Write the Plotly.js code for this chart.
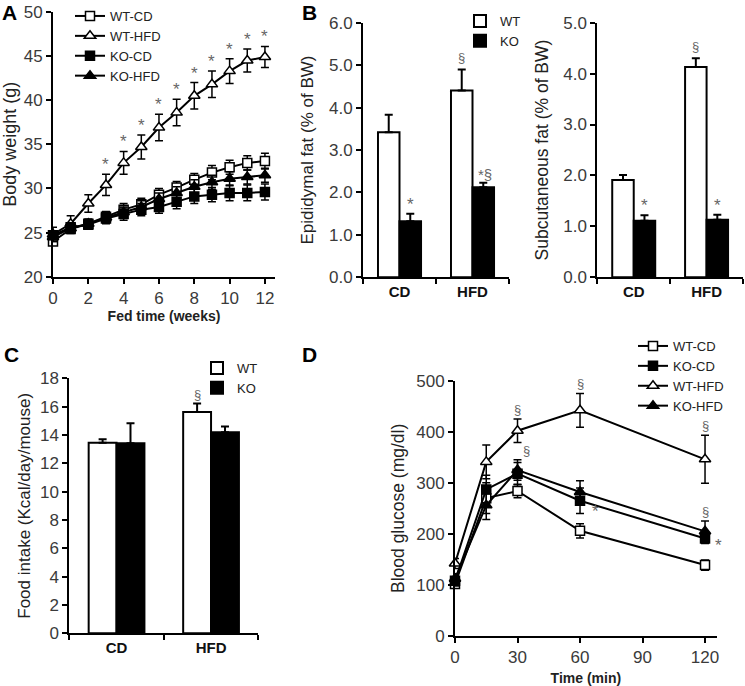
<!DOCTYPE html>
<html>
<head>
<meta charset="utf-8">
<script src="https://cdn.plot.ly/plotly-3.0.1.min.js"></script>
<style>html,body{margin:0;padding:0;background:#fff;}#chart{width:745px;height:686px;}</style>
</head>
<body>
<div id="chart"></div>
<script>
// ---------- DATA ----------
// Panel A: body weight (g) over fed time (weeks)
const weeks = [0,1,2,3,4,5,6,7,8,9,10,11,12];
const wtCdBW   = [24.0,25.4,26.0,26.8,27.6,28.2,29.3,30.1,31.0,31.8,32.4,32.9,33.1];
const wtCdBWe  = [0.4,0.5,0.5,0.6,0.7,0.7,0.7,0.7,0.7,0.8,0.8,0.8,0.9];
const wtHfdBW  = [24.8,26.0,28.3,30.4,32.9,34.7,36.9,38.6,40.5,41.8,43.3,44.5,44.9];
const wtHfdBWe = [0.8,0.9,1.0,1.2,1.3,1.35,1.5,1.5,1.5,1.5,1.4,1.3,1.2];
const koCdBW   = [24.7,25.6,25.9,26.6,27.1,27.6,27.9,28.5,29.1,29.3,29.5,29.5,29.6];
const koCdBWe  = [0.5,0.5,0.5,0.6,0.7,0.7,0.7,0.8,0.8,0.8,0.9,0.9,0.9];
const koHfdBW  = [24.5,25.5,26.0,26.7,27.3,27.9,28.8,29.5,30.2,30.7,31.1,31.3,31.5];
const koHfdBWe = [0.5,0.5,0.5,0.6,0.6,0.7,0.7,0.7,0.8,0.8,0.8,0.8,0.8];
const starWeeks = [3,4,5,6,7,8,9,10,11,12];

// Panels B, C: bar categories
const diets = ['CD','HFD'];
const epiWT = [3.42, 4.40], epiWTe = [0.41, 0.50];
const epiKO = [1.32, 2.12], epiKOe = [0.18, 0.11];
const subWT = [1.91, 4.13], subWTe = [0.10, 0.17];
const subKO = [1.11, 1.13], subKOe = [0.11, 0.10];
const foodWT = [13.45, 15.62], foodWTe = [0.25, 0.60];
const foodKO = [13.42, 14.20], foodKOe = [1.40, 0.40];

// Panel D: blood glucose (mg/dl) over time (min)
const minutes = [0,15,30,60,120];
const wtCdG   = [102,270,284,206,139], wtCdGe  = [8,30,13,14,10];
const koCdG   = [108,287,318,265,191], koCdGe  = [10,28,22,25,10];
const wtHfdG  = [142,341,402,442,346], wtHfdGe = [10,33,23,33,47];
const koHfdG  = [112,256,325,282,205], koHfdGe = [10,28,20,22,20];

// ---------- STYLE ----------
const W = 745, H = 686;
const FONT = 'Liberation Sans, Arial, sans-serif';
const TICKC = '#3a3a3a';
const MARKC = '#666';
function xd(a,b){return [a/W, b/W];}
function yd(top,bot){return [1-bot/H, 1-top/H];}
function zeros(a){return a.map(function(){return 0;});}

function lineTrace(name, x, y, e, sym, fill, xa, ya, lg){
  return {type:'scatter', mode:'lines+markers', name:name, x:x, y:y,
    xaxis:xa, yaxis:ya, legend:lg, cliponaxis:false,
    line:{color:'black', width:2},
    marker:{symbol:sym, size:(sym.indexOf('triangle')===0?10:9), color:fill, line:{color:'black', width:1.5}},
    error_y:{type:'data', array:e, visible:true, color:'black', thickness:1.5, width:4}};
}
function barTrace(name, y, e, fill, xa, ya, lg, show){
  return {type:'bar', name:name, x:diets, y:y, xaxis:xa, yaxis:ya, legend:lg, showlegend:show,
    marker:{color:fill, line:{color:'black', width:2}},
    error_y:{type:'data', symmetric:false, array:e, arrayminus:zeros(e), visible:true, color:'black', thickness:2, width:4}};
}

const traces = [
  lineTrace('WT-CD', weeks, wtCdBW, wtCdBWe, 'square', 'white', 'x', 'y', 'legend'),
  lineTrace('WT-HFD', weeks, wtHfdBW, wtHfdBWe, 'triangle-up', 'white', 'x', 'y', 'legend'),
  lineTrace('KO-CD', weeks, koCdBW, koCdBWe, 'square', 'black', 'x', 'y', 'legend'),
  lineTrace('KO-HFD', weeks, koHfdBW, koHfdBWe, 'triangle-up', 'black', 'x', 'y', 'legend'),
  barTrace('WT', epiWT, epiWTe, 'white', 'x2', 'y2', 'legend2', true),
  barTrace('KO', epiKO, epiKOe, 'black', 'x2', 'y2', 'legend2', true),
  barTrace('WT', subWT, subWTe, 'white', 'x3', 'y3', 'legend2', false),
  barTrace('KO', subKO, subKOe, 'black', 'x3', 'y3', 'legend2', false),
  barTrace('WT', foodWT, foodWTe, 'white', 'x4', 'y4', 'legend3', true),
  barTrace('KO', foodKO, foodKOe, 'black', 'x4', 'y4', 'legend3', true),
  lineTrace('WT-CD', minutes, wtCdG, wtCdGe, 'square', 'white', 'x5', 'y5', 'legend4'),
  lineTrace('KO-CD', minutes, koCdG, koCdGe, 'square', 'black', 'x5', 'y5', 'legend4'),
  lineTrace('WT-HFD', minutes, wtHfdG, wtHfdGe, 'triangle-up', 'white', 'x5', 'y5', 'legend4'),
  lineTrace('KO-HFD', minutes, koHfdG, koHfdGe, 'triangle-up', 'black', 'x5', 'y5', 'legend4')
];

function axis(extra){
  const base = {showline:true, linecolor:'black', linewidth:2, ticks:'outside', ticklen:5,
    tickwidth:2, tickcolor:'black', showgrid:false, zeroline:false, fixedrange:true,
    tickfont:{family:FONT, size:17, color:TICKC}};
  return Object.assign(base, extra);
}
function ytitle(t, s, sz){return {text:t, font:{family:FONT, size:sz, color:'#222'}, standoff:s};}
function xtitle(t, s){return {text:t, font:{family:FONT, size:14, color:'#222', weight:'bold'}, standoff:s};}
const catFont = {family:FONT, size:15, color:'#111', weight:'bold'};
const secFont = {family:FONT, size:13, color:MARKC};

// annotations built from data
const ann = [];
function mark(xa, ya, x, y, text, opt){
  ann.push(Object.assign({xref:xa, yref:ya, x:x, y:y, text:text, showarrow:false,
    yanchor:'bottom', font:{family:FONT, size:17, color:MARKC}}, opt||{}));
}
starWeeks.forEach(function(w){ mark('x','y', w, wtHfdBW[w]+wtHfdBWe[w], '*', {yshift:-2}); });
// B epididymal
mark('x2','y2', diets[0], epiKO[0]+epiKOe[0], '*', {xshift:11, yshift:-2});
mark('x2','y2', diets[1], epiWT[1]+epiWTe[1], '§', {xshift:-11, font:secFont, yshift:2});
mark('x2','y2', diets[1], epiKO[1]+epiKOe[1], '*§', {xshift:12, yshift:-2, font:{family:FONT,size:15,color:MARKC}});
// B subcutaneous
mark('x3','y3', diets[0], subKO[0]+subKOe[0], '*', {xshift:11, yshift:-2});
mark('x3','y3', diets[1], subKO[1]+subKOe[1], '*', {xshift:11, yshift:-2});
mark('x3','y3', diets[1], subWT[1]+subWTe[1], '§', {xshift:-11, font:secFont, yshift:2});
// C
mark('x4','y4', diets[1], foodWT[1]+foodWTe[1], '§', {xshift:-14, font:secFont, yshift:0});
// D
[2,3,4].forEach(function(i){ mark('x5','y5', minutes[i], wtHfdG[i]+wtHfdGe[i], '§', {font:secFont, yshift:0}); });
mark('x5','y5', minutes[2], koHfdG[2]+koHfdGe[2], '§', {xshift:9, font:secFont});
mark('x5','y5', minutes[4], koHfdG[4]+koHfdGe[4], '§', {font:secFont});
mark('x5','y5', minutes[3], koCdG[3], '*', {xshift:15, yshift:-22});
mark('x5','y5', minutes[4], koCdG[4], '*', {xshift:13, yshift:-19});
// panel letters
[['A',9,12],['B',309,12],['C',11,354],['D',309,354]].forEach(function(p){
  ann.push({xref:'paper', yref:'paper', x:p[1]/W, y:1-p[2]/H, text:'<b>'+p[0]+'</b>', showarrow:false,
    xanchor:'center', yanchor:'middle', font:{family:FONT, size:21, color:'black'}});
});

const legFont = {family:FONT, size:13, color:'#222'};
const layout = {
  width:W, height:H, paper_bgcolor:'white', plot_bgcolor:'white',
  margin:{l:0, r:0, t:0, b:0, autoexpand:false},
  barmode:'group', bargap:0.41, bargroupgap:0,
  font:{family:FONT},
  xaxis: axis({domain:xd(53,275), range:[0,12.57], dtick:2, anchor:'y', title:xtitle('Fed time (weeks)', 2)}),
  yaxis: axis({domain:yd(12,276.7), range:[20,50], dtick:5, anchor:'x', title:ytitle('Body weight (g)', 2, 18)}),
  xaxis2: axis({domain:xd(363,509), type:'category', anchor:'y2', tickson:'boundaries', tickfont:catFont}),
  yaxis2: axis({domain:yd(22.7,277.3), range:[0,6], dtick:1, tickformat:'.1f', anchor:'x2', title:ytitle('Epididymal fat (% of BW)', 11, 17)}),
  xaxis3: axis({domain:xd(597.3,743), type:'category', anchor:'y3', tickson:'boundaries', tickfont:catFont}),
  yaxis3: axis({domain:yd(22.7,277.3), range:[0,5], dtick:1, tickformat:'.1f', anchor:'x3', title:ytitle('Subcutaneous fat (% of BW)', 10, 17.5)}),
  xaxis4: axis({domain:xd(69.3,258.3), type:'category', anchor:'y4', tickson:'boundaries', tickfont:catFont}),
  yaxis4: axis({domain:yd(378.3,633.3), range:[0,18], dtick:2, anchor:'x4', title:ytitle('Food intake (Kcal/day/mouse)', 5, 17)}),
  xaxis5: axis({domain:xd(455,716.7), range:[0,125.6], dtick:30, anchor:'y5', title:xtitle('Time (min)', 9)}),
  yaxis5: axis({domain:yd(380.7,636), range:[0,500], dtick:100, anchor:'x5', title:ytitle('Blood glucose (mg/dl)', 7, 17.5)}),
  legend:  {x:70/W, y:1-1/H, xanchor:'left', yanchor:'top', bgcolor:'rgba(0,0,0,0)', font:legFont, tracegroupgap:0},
  legend2: {x:460/W, y:1-6/H, xanchor:'left', yanchor:'top', bgcolor:'rgba(0,0,0,0)', font:legFont, tracegroupgap:0},
  legend3: {x:197/W, y:1-353/H, xanchor:'left', yanchor:'top', bgcolor:'rgba(0,0,0,0)', font:legFont, tracegroupgap:0},
  legend4: {x:633/W, y:1-331/H, xanchor:'left', yanchor:'top', bgcolor:'rgba(0,0,0,0)', font:legFont, tracegroupgap:0},
  annotations: ann,
  showlegend:true
};

Plotly.newPlot('chart', traces, layout, {staticPlot:true, displayModeBar:false});
</script>
</body>
</html>
